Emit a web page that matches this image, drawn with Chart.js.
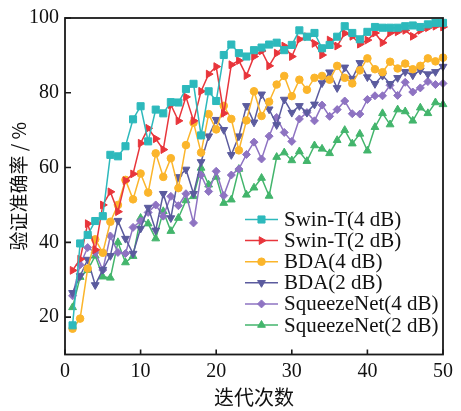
<!DOCTYPE html>
<html>
<head>
<meta charset="utf-8">
<script src="https://cdn.jsdelivr.net/npm/chart.js@4/dist/chart.umd.min.js"></script>
<style>
  html, body { margin: 0; padding: 0; background: #fff; }
  #wrap { width: 461px; height: 411px; }
</style>
</head>
<body>
<div id="wrap"><canvas id="c" width="461" height="411"></canvas></div>
<script>
// Training epochs
const epochs = [1,2,3,4,5,6,7,8,9,10,11,12,13,14,15,16,17,18,19,20,21,22,23,24,25,
                26,27,28,29,30,31,32,33,34,35,36,37,38,39,40,41,42,43,44,45,46,47,48,49,50];

// Validation accuracy (%) per epoch
const swinT4 = [17.8,39.7,42.0,45.7,47.0,63.4,63.0,65.7,72.9,76.4,67.0,75.5,74.5,77.5,77.4,81.0,82.4,68.6,80.4,77.8,
                90.1,92.9,90.6,89.7,91.4,92.1,92.9,93.4,91.4,92.8,96.7,95.0,96.0,91.9,92.8,95.0,97.8,96.0,94.3,96.3,
                97.6,97.4,97.4,97.4,97.8,98.0,97.6,98.3,98.7,98.7];
const swinT2 = [32.5,35.5,45.0,38.0,50.0,53.5,48.2,56.5,58.3,66.5,70.5,67.7,64.8,76.8,72.5,78.9,72.5,80.4,85.0,87.0,
                74.5,87.5,88.6,84.6,89.7,91.2,87.2,90.6,92.5,89.7,94.3,95.0,93.2,90.1,94.1,92.5,95.9,95.1,93.0,94.1,
                96.0,93.4,96.0,96.3,96.7,95.1,96.7,97.4,97.8,97.6];
const bda4   = [16.9,19.6,33.0,40.8,37.2,45.5,50.0,56.7,51.5,58.4,53.3,63.8,57.5,62.5,54.5,66.0,72.0,64.0,74.3,70.2,
                76.5,73.0,64.6,72.6,80.4,73.8,77.6,82.2,84.5,79.1,83.5,80.8,84.0,84.5,83.5,87.2,84.0,82.5,86.0,89.2,
                86.3,85.5,88.3,86.5,87.8,86.3,87.2,89.2,88.4,89.4];
const bda2   = [26.5,31.0,35.4,28.6,32.7,36.4,45.8,41.0,37.0,43.7,49.3,43.2,53.0,46.5,57.5,59.5,53.0,61.5,68.4,72.8,
                70.1,63.4,68.4,76.5,72.1,79.6,75.6,71.4,78.2,74.7,76.5,74.7,76.9,82.6,85.5,81.3,86.8,83.8,88.0,84.2,
                82.4,84.6,82.4,84.0,85.6,84.7,86.0,85.0,85.6,87.0];
const squeeze4 = [25.7,34.0,38.6,37.3,32.6,41.7,37.3,37.0,44.0,45.7,48.0,50.0,47.0,52.3,49.8,53.0,45.2,58.0,53.6,59.0,
                  52.5,58.0,59.6,63.5,66.8,62.3,68.4,73.4,69.4,67.0,73.0,74.7,72.5,76.7,73.7,75.5,77.8,74.4,74.3,78.2,
                  79.2,79.2,82.0,79.3,82.8,80.2,81.3,83.0,82.2,82.5];
const squeeze2 = [22.6,30.7,32.6,36.4,30.8,30.5,40.0,34.6,36.3,46.5,45.0,41.0,48.3,43.0,46.5,51.2,52.3,59.9,55.4,57.5,
                  50.5,51.4,59.6,52.7,54.6,57.2,52.4,62.8,64.0,61.9,64.3,61.7,65.9,65.0,63.8,67.3,70.0,66.4,69.0,64.5,
                  70.8,74.5,71.5,75.5,75.0,72.5,76.0,74.5,77.4,76.9];

const seriesNames = ['Swin-T(4 dB)', 'Swin-T(2 dB)', 'BDA(4 dB)', 'BDA(2 dB)', 'SqueezeNet(4 dB)', 'SqueezeNet(2 dB)'];
const xTicks = [0, 10, 20, 30, 40, 50];
const yTicks = [20, 40, 60, 80, 100];

const SERIF = '"Liberation Serif", "Times New Roman", serif';
const CJK = '"Noto Sans CJK SC", sans-serif';

function series(label, values, color, style, radius, rotation) {
  return {
    label,
    data: epochs.map((e, i) => ({ x: e, y: values[i] })),
    borderColor: color,
    backgroundColor: color,
    borderWidth: 1.5,
    pointStyle: style,
    pointRadius: radius,
    pointRotation: rotation,
    pointBorderWidth: 1,
    pointBackgroundColor: color,
    pointBorderColor: color,
    tension: 0,
    clip: false
  };
}

const datasets = [
  series(seriesNames[0], swinT4,   '#2DB9BC', 'rect',     5,   0),
  series(seriesNames[1], swinT2,   '#E8353B', 'triangle', 4.5, 90),
  series(seriesNames[2], bda4,     '#FBB52B', 'circle',   3.8, 0),
  series(seriesNames[3], bda2,     '#5B5B9E', 'triangle', 4.5, 180),
  series(seriesNames[4], squeeze4, '#8E73C2', 'rectRot',  4,   0),
  series(seriesNames[5], squeeze2, '#43B56C', 'triangle', 4.5, 0)
];

function marker(ctx, ds, x, y) {
  const opts = {
    pointStyle: ds.pointStyle, radius: ds.pointRadius, rotation: ds.pointRotation, borderWidth: 1
  };
  ctx.fillStyle = ds.pointBackgroundColor;
  ctx.strokeStyle = ds.pointBorderColor;
  ctx.lineWidth = 1;
  Chart.helpers.drawPoint(ctx, opts, x, y);
}

// Frame, inward ticks and the in-plot legend
const framePlugin = {
  id: 'frame',
  afterDraw(chart) {
    const { ctx, chartArea: a, scales: { x, y } } = chart;
    ctx.save();
    ctx.strokeStyle = '#1a1a1a';
    ctx.lineWidth = 1.6;
    ctx.beginPath();
    x.ticks.forEach(t => {
      const px = x.getPixelForValue(t.value);
      ctx.moveTo(px, a.bottom); ctx.lineTo(px, a.bottom - 5);
    });
    y.ticks.forEach(t => {
      const py = y.getPixelForValue(t.value);
      ctx.moveTo(a.left, py); ctx.lineTo(a.left + 6, py);
    });
    ctx.stroke();
    ctx.lineWidth = 1.8;
    ctx.strokeRect(a.left, a.top, a.right - a.left, a.bottom - a.top);

    // legend
    const lx0 = 245, lx1 = 278, tx = 284, top = 219.5, step = 21.1;
    ctx.font = '21px ' + SERIF;
    ctx.textBaseline = 'middle';
    ctx.textAlign = 'left';
    chart.data.datasets.forEach((ds, i) => {
      const cy = top + i * step;
      ctx.strokeStyle = ds.borderColor;
      ctx.lineWidth = 1.5;
      ctx.beginPath(); ctx.moveTo(lx0, cy); ctx.lineTo(lx1, cy); ctx.stroke();
      marker(ctx, ds, (lx0 + lx1) / 2, cy);
      ctx.fillStyle = '#111';
      ctx.fillText(ds.label, tx, cy + 1);
    });
    ctx.restore();
  }
};

new Chart(document.getElementById('c'), {
  type: 'line',
  data: { datasets },
  options: {
    responsive: false,
    devicePixelRatio: 1,
    animation: false,
    layout: { padding: { left: 0, top: 14, right: 18, bottom: 0 } },
    plugins: { legend: { display: false }, tooltip: { enabled: false } },
    scales: {
      x: {
        type: 'linear',
        min: 0, max: 50,
        afterBuildTicks: s => { s.ticks = xTicks.map(v => ({ value: v })); },
        afterFit: s => { s.height = 56.5; },
        grid: { display: false, drawTicks: false },
        border: { display: false },
        ticks: { padding: 5, color: '#111', font: { family: SERIF, size: 20 }, maxRotation: 0 },
        title: { display: true, text: '迭代次数', color: '#111',
                 font: { family: CJK, size: 20 }, padding: { top: 0, bottom: 2 } }
      },
      y: {
        type: 'linear',
        min: 10, max: 100,
        afterBuildTicks: s => { s.ticks = yTicks.map(v => ({ value: v })); },
        afterFit: s => { s.width = 65; },
        grid: { display: false, drawTicks: false },
        border: { display: false },
        ticks: { padding: 6, color: '#111', font: { family: SERIF, size: 20 } },
        title: { display: true, text: '验证准确率 / %', color: '#111',
                 font: { family: CJK, size: 19 }, padding: { top: 7, bottom: 0 } }
      }
    }
  },
  plugins: [framePlugin]
});
</script>
</body>
</html>
